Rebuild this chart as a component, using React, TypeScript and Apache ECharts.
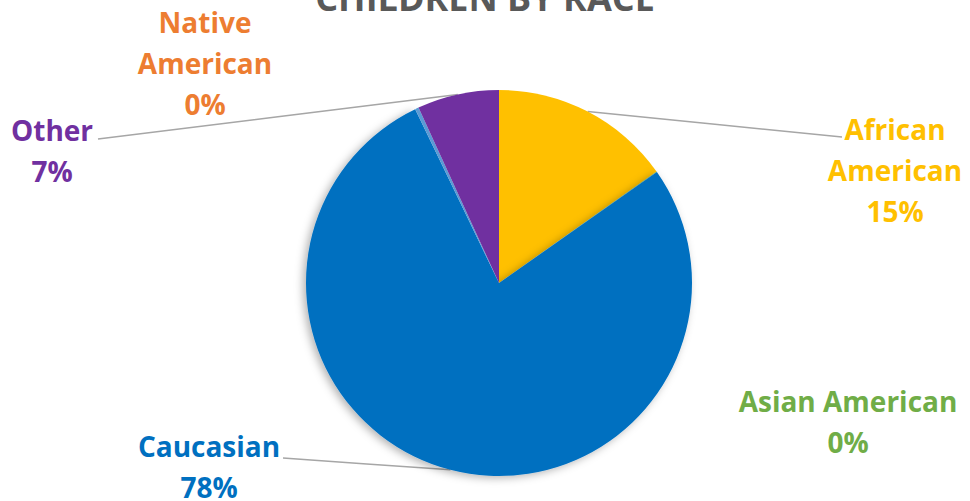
import React, { useEffect, useRef } from "react";
import * as echarts from "echarts";

const categories = ["African American", "Asian American", "Caucasian", "Native American", "Other"];
const labelTexts = ["African\nAmerican", "Asian American", "Caucasian", "Native\nAmerican", "Other"];
const values = [15.2, 0.05, 77.6, 0.3, 6.85];
const sliceColors = ["#FFC000", "#70AD47", "#0070C0", "#5B9BD5", "#7030A0"];
const labelColors = ["#FFC000", "#70AD47", "#0070C0", "#ED7D31", "#7030A0"];
const showLine = [true, false, true, false, true];

// label block centres (layout)
const labelPos: [number, number][] = [
  [895, 170],
  [848, 421],
  [209, 466],
  [205, 63],
  [52, 150],
];
// leader-line end offsets from label centre (layout)
const lineEnd: [number, number][] = [
  [-53, -33],
  [0, 0],
  [74, -8],
  [0, 0],
  [46, -11],
];

export default function App() {
  const ref = useRef<HTMLDivElement>(null);
  useEffect(() => {
    document.body.style.margin = "0";
    if (!ref.current) return;
    const chart = echarts.init(ref.current, undefined, { renderer: "svg" });
    const font = "'Open Sans', 'Noto Sans', sans-serif";
    chart.setOption({
      animation: false,
      title: {
        text: "CHILDREN BY RACE",
        left: "center",
        top: -26,
        textStyle: { fontSize: 36, fontWeight: "bold", color: "#595959", fontFamily: font },
      },
      series: [
        {
          type: "pie",
          center: [499, 283],
          radius: 193,
          startAngle: 90,
          clockwise: true,
          avoidLabelOverlap: false,
          data: categories.map((name, i) => ({
            name,
            value: values[i],
            itemStyle: {
              color: sliceColors[i],
              ...(i === 2
                ? { shadowBlur: 8, shadowOffsetX: -3, shadowOffsetY: 2, shadowColor: "rgba(0,0,0,0.3)" }
                : {}),
            },
            label: { color: labelColors[i] },
            labelLine: { show: showLine[i] },
          })),
          label: {
            show: true,
            position: "outside",
            fontFamily: font,
            fontSize: 28,
            fontWeight: "bold",
            lineHeight: 41,
            align: "center",
            formatter: (p: any) => `${labelTexts[p.dataIndex]}\n${Math.round(p.percent)}%`,
          },
          labelLine: {
            show: true,
            length: 10,
            length2: 10,
            lineStyle: { color: "#A6A6A6", width: 1.5 },
          },
          labelLayout: (p: any) => {
            const [x, y] = labelPos[p.dataIndex];
            const out: any = { x, y, align: "center", verticalAlign: "middle" };
            if (showLine[p.dataIndex] && p.labelLinePoints) {
              const e = [x + lineEnd[p.dataIndex][0], y + lineEnd[p.dataIndex][1]];
              const s = p.labelLinePoints[0];
              out.labelLinePoints = [s, [(s[0] + e[0]) / 2, (s[1] + e[1]) / 2], e];
            }
            return out;
          },
        },
      ],
    });
    return () => chart.dispose();
  }, []);
  return <div ref={ref} style={{ width: 970, height: 501 }} />;
}
